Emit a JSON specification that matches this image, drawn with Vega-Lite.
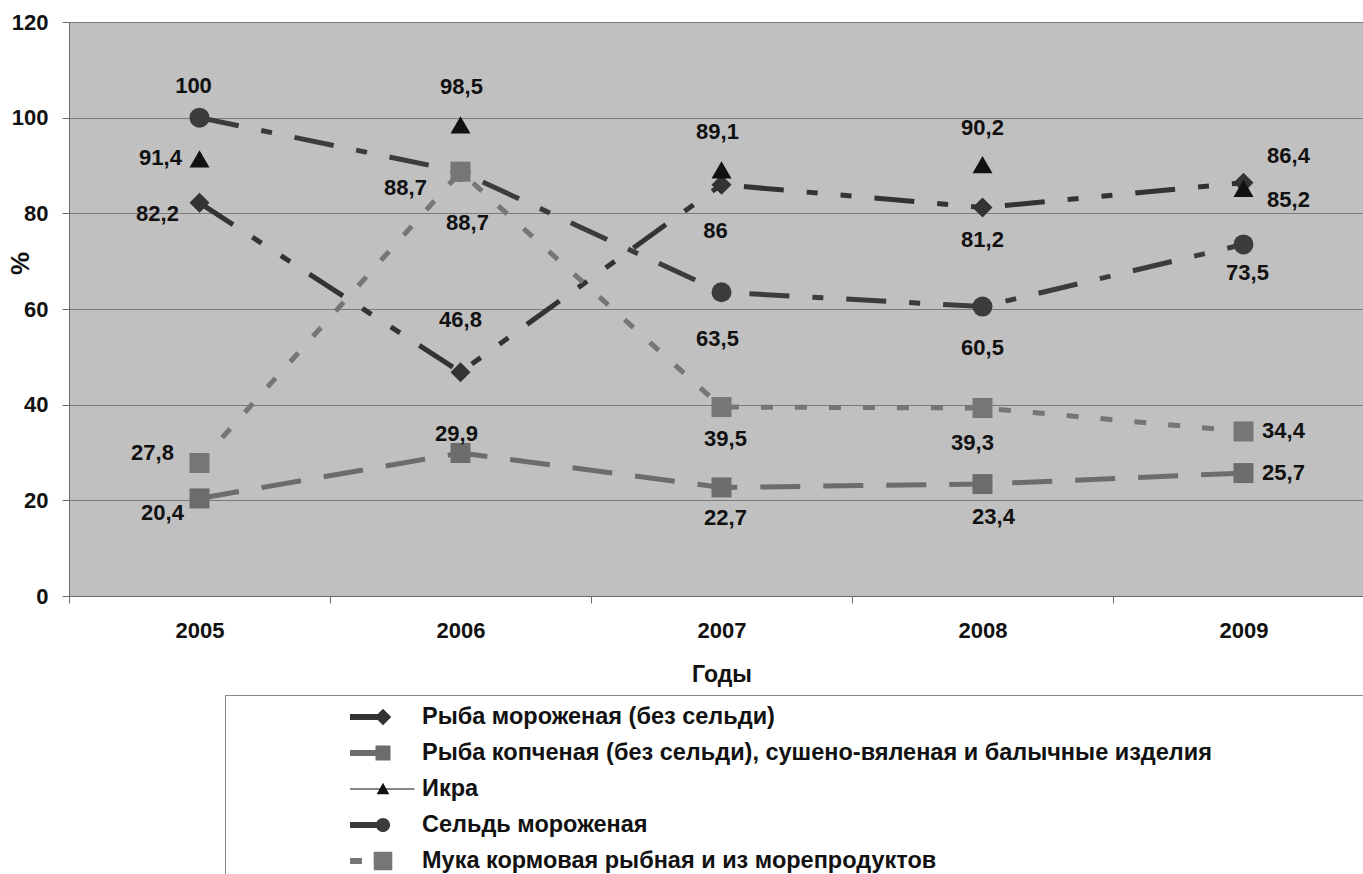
{
  "$schema": "https://vega.github.io/schema/vega-lite/v6.json",
  "width": 1294,
  "height": 574,
  "autosize": "none",
  "padding": {"left": 69, "top": 22, "right": 0, "bottom": 278},
  "config": {
    "locale": {"number": {"decimal": ",", "thousands": " ", "grouping": [3], "currency": ["", ""]}},
    "view": {"fill": "#c0c0c0", "stroke": null},
    "font": "Liberation Sans",
    "axis": {
      "labelFont": "Liberation Sans",
      "labelFontSize": 22,
      "labelFontWeight": "bold",
      "labelColor": "#111111",
      "titleFont": "Liberation Sans",
      "titleFontSize": 23,
      "titleFontWeight": "bold",
      "titleColor": "#111111",
      "tickSize": 7,
      "tickColor": "#6a6a6a",
      "domainColor": "#6a6a6a",
      "gridColor": "#7a7a7a",
      "gridWidth": 1
    }
  },
  "data": {
    "values": [
      {"year": "2005", "id": "RM", "series": "Рыба мороженая (без сельди)", "value": 82.2},
      {"year": "2006", "id": "RM", "series": "Рыба мороженая (без сельди)", "value": 46.8},
      {"year": "2007", "id": "RM", "series": "Рыба мороженая (без сельди)", "value": 86},
      {"year": "2008", "id": "RM", "series": "Рыба мороженая (без сельди)", "value": 81.2},
      {"year": "2009", "id": "RM", "series": "Рыба мороженая (без сельди)", "value": 86.4},
      {"year": "2005", "id": "RK", "series": "Рыба копченая (без сельди), сушено-вяленая и балычные изделия", "value": 20.4},
      {"year": "2006", "id": "RK", "series": "Рыба копченая (без сельди), сушено-вяленая и балычные изделия", "value": 29.9},
      {"year": "2007", "id": "RK", "series": "Рыба копченая (без сельди), сушено-вяленая и балычные изделия", "value": 22.7},
      {"year": "2008", "id": "RK", "series": "Рыба копченая (без сельди), сушено-вяленая и балычные изделия", "value": 23.4},
      {"year": "2009", "id": "RK", "series": "Рыба копченая (без сельди), сушено-вяленая и балычные изделия", "value": 25.7},
      {"year": "2005", "id": "IK", "series": "Икра", "value": 91.4},
      {"year": "2006", "id": "IK", "series": "Икра", "value": 98.5},
      {"year": "2007", "id": "IK", "series": "Икра", "value": 89.1},
      {"year": "2008", "id": "IK", "series": "Икра", "value": 90.2},
      {"year": "2009", "id": "IK", "series": "Икра", "value": 85.2},
      {"year": "2005", "id": "SM", "series": "Сельдь мороженая", "value": 100},
      {"year": "2006", "id": "SM", "series": "Сельдь мороженая", "value": 88.7},
      {"year": "2007", "id": "SM", "series": "Сельдь мороженая", "value": 63.5},
      {"year": "2008", "id": "SM", "series": "Сельдь мороженая", "value": 60.5},
      {"year": "2009", "id": "SM", "series": "Сельдь мороженая", "value": 73.5},
      {"year": "2005", "id": "MK", "series": "Мука кормовая рыбная и  из морепродуктов", "value": 27.8},
      {"year": "2006", "id": "MK", "series": "Мука кормовая рыбная и  из морепродуктов", "value": 88.7},
      {"year": "2007", "id": "MK", "series": "Мука кормовая рыбная и  из морепродуктов", "value": 39.5},
      {"year": "2008", "id": "MK", "series": "Мука кормовая рыбная и  из морепродуктов", "value": 39.3},
      {"year": "2009", "id": "MK", "series": "Мука кормовая рыбная и  из морепродуктов", "value": 34.4}
    ]
  },
  "encoding": {
    "x": {
      "field": "year",
      "type": "ordinal",
      "bandPosition": 0.5,
      "scale": {"type": "band", "paddingInner": 0, "paddingOuter": 0, "range": [0, 1305]},
      "axis": {
        "title": "Годы",
        "labelAngle": 0,
        "grid": false,
        "tickBand": "extent",
        "labelPadding": 17,
        "titlePadding": 22
      }
    },
    "y": {
      "field": "value",
      "type": "quantitative",
      "scale": {"domain": [0, 120]},
      "axis": {
        "title": "%",
        "values": [0, 20, 40, 60, 80, 100, 120],
        "grid": true,
        "labelPadding": 14,
        "titleAngle": 270,
        "titleX": -49,
        "titleY": 241,
        "titleAlign": "center",
        "titleBaseline": "middle",
        "titleFontSize": 26
      }
    }
  },
  "layer": [
    {
      "transform": [{"filter": "datum.id !== 'IK'"}],
      "mark": {"type": "line", "strokeWidth": 5, "strokeCap": "butt"},
      "encoding": {
        "stroke": {
          "field": "series",
          "type": "nominal",
          "scale": {
            "domain": ["Рыба мороженая (без сельди)", "Рыба копченая (без сельди), сушено-вяленая и балычные изделия", "Сельдь мороженая", "Мука кормовая рыбная и  из морепродуктов"],
            "range": ["#333333", "#6c6c6c", "#3c3c3c", "#767676"]
          },
          "legend": null
        },
        "strokeDash": {
          "field": "series",
          "type": "nominal",
          "scale": {
            "domain": ["Рыба мороженая (без сельди)", "Рыба копченая (без сельди), сушено-вяленая и балычные изделия", "Сельдь мороженая", "Мука кормовая рыбная и  из морепродуктов"],
            "range": [[40, 23, 11, 23, 11, 23], [40, 23], [40, 23, 11, 23], [12, 22]]
          },
          "legend": null
        }
      }
    },
    {
      "mark": {"type": "point", "filled": true, "size": 400, "opacity": 1},
      "encoding": {
        "shape": {
          "field": "series",
          "type": "nominal",
          "sort": null,
          "scale": {
            "domain": ["Икра", "Рыба мороженая (без сельди)", "Рыба копченая (без сельди), сушено-вяленая и балычные изделия", "Сельдь мороженая", "Мука кормовая рыбная и  из морепродуктов"],
            "range": ["triangle-up", "diamond", "square", "circle", "square"]
          },
          "legend": null
        },
        "fill": {
          "field": "series",
          "type": "nominal",
          "sort": null,
          "scale": {
            "domain": ["Рыба мороженая (без сельди)", "Рыба копченая (без сельди), сушено-вяленая и балычные изделия", "Икра", "Сельдь мороженая", "Мука кормовая рыбная и  из морепродуктов"],
            "range": ["#333333", "#6c6c6c", "#111111", "#3c3c3c", "#767676"]
          },
          "legend": {
            "orient": "none",
            "legendX": 156,
            "legendY": 673,
            "direction": "vertical",
            "title": null,
            "padding": 7,
            "strokeColor": "#8a8a8a",
            "fillColor": "#ffffff",
            "symbolSize": 900,
            "symbolStrokeWidth": 0,
            "symbolOpacity": 1,
            "symbolOffset": 136,
            "labelFont": "Liberation Sans",
            "labelFontSize": 23.5,
            "labelFontWeight": "bold",
            "labelColor": "#111111",
            "labelOffset": 24,
            "labelLimit": 3000,
            "rowPadding": 9,
            "encode": {
              "symbols": {
                "update": {
                  "shape": {"signal": "datum.value === 'Рыба мороженая (без сельди)' ? 'M-2.2,-0.2L0,-0.2L0,0.2L-2.2,0.2ZM0,-0.55L0.55,0L0,0.55L-0.55,0ZM70,0' : datum.value === 'Икра' ? 'M-2.2,-0.04L2.1,-0.04L2.1,0.04L-2.2,0.04ZM0,-0.42L0.42,0.35L-0.42,0.35ZM70,0' : datum.value === 'Сельдь мороженая' ? 'M-2.2,-0.2L0,-0.2L0,0.2L-2.2,0.2ZM-0.47,0A0.47,0.47,0,1,1,0.47,0A0.47,0.47,0,1,1,-0.47,0ZM70,0' : datum.value === 'Мука кормовая рыбная и  из морепродуктов' ? 'M-2.2,-0.2L-1.4,-0.2L-1.4,0.2L-2.2,0.2ZM-0.62,-0.62L0.62,-0.62L0.62,0.62L-0.62,0.62ZM70,0' : 'M-2.2,-0.2L-0.5,-0.2L-0.5,0.2L-2.2,0.2ZM-0.5,-0.5L0.5,-0.5L0.5,0.5L-0.5,0.5ZM70,0'"}
                }
              }
            }
          }
        }
      }
    },
    {
      "mark": {
        "type": "text",
        "font": "Liberation Sans",
        "fontSize": 22,
        "fontWeight": "bold",
        "color": "#111111",
        "align": "center",
        "baseline": "middle",
        "dx": {"expr": "({'RM2005':-42,'RM2006':0,'RM2007':-6,'RM2008':0,'RM2009':45,'RK2005':-37,'RK2006':-4,'RK2007':4,'RK2008':11,'RK2009':40,'IK2005':-39,'IK2006':1,'IK2007':-4,'IK2008':0,'IK2009':45,'SM2005':-6,'SM2006':7,'SM2007':-4,'SM2008':0,'SM2009':4,'MK2005':-47,'MK2006':-55,'MK2007':4,'MK2008':-10,'MK2009':40})[datum.id + datum.year]"},
        "dy": {"expr": "({'RM2005':11,'RM2006':-52,'RM2007':46,'RM2008':32,'RM2009':-27,'RK2005':15,'RK2006':-19,'RK2007':31,'RK2008':33,'RK2009':0,'IK2005':-1,'IK2006':-38,'IK2007':-38,'IK2008':-37,'IK2009':12,'SM2005':-32,'SM2006':51,'SM2007':47,'SM2008':41,'SM2009':29,'MK2005':-10,'MK2006':16,'MK2007':32,'MK2008':35,'MK2009':0})[datum.id + datum.year]"}
      },
      "encoding": {
        "text": {"field": "value", "type": "quantitative", "format": "~g"}
      }
    }
  ]
}
